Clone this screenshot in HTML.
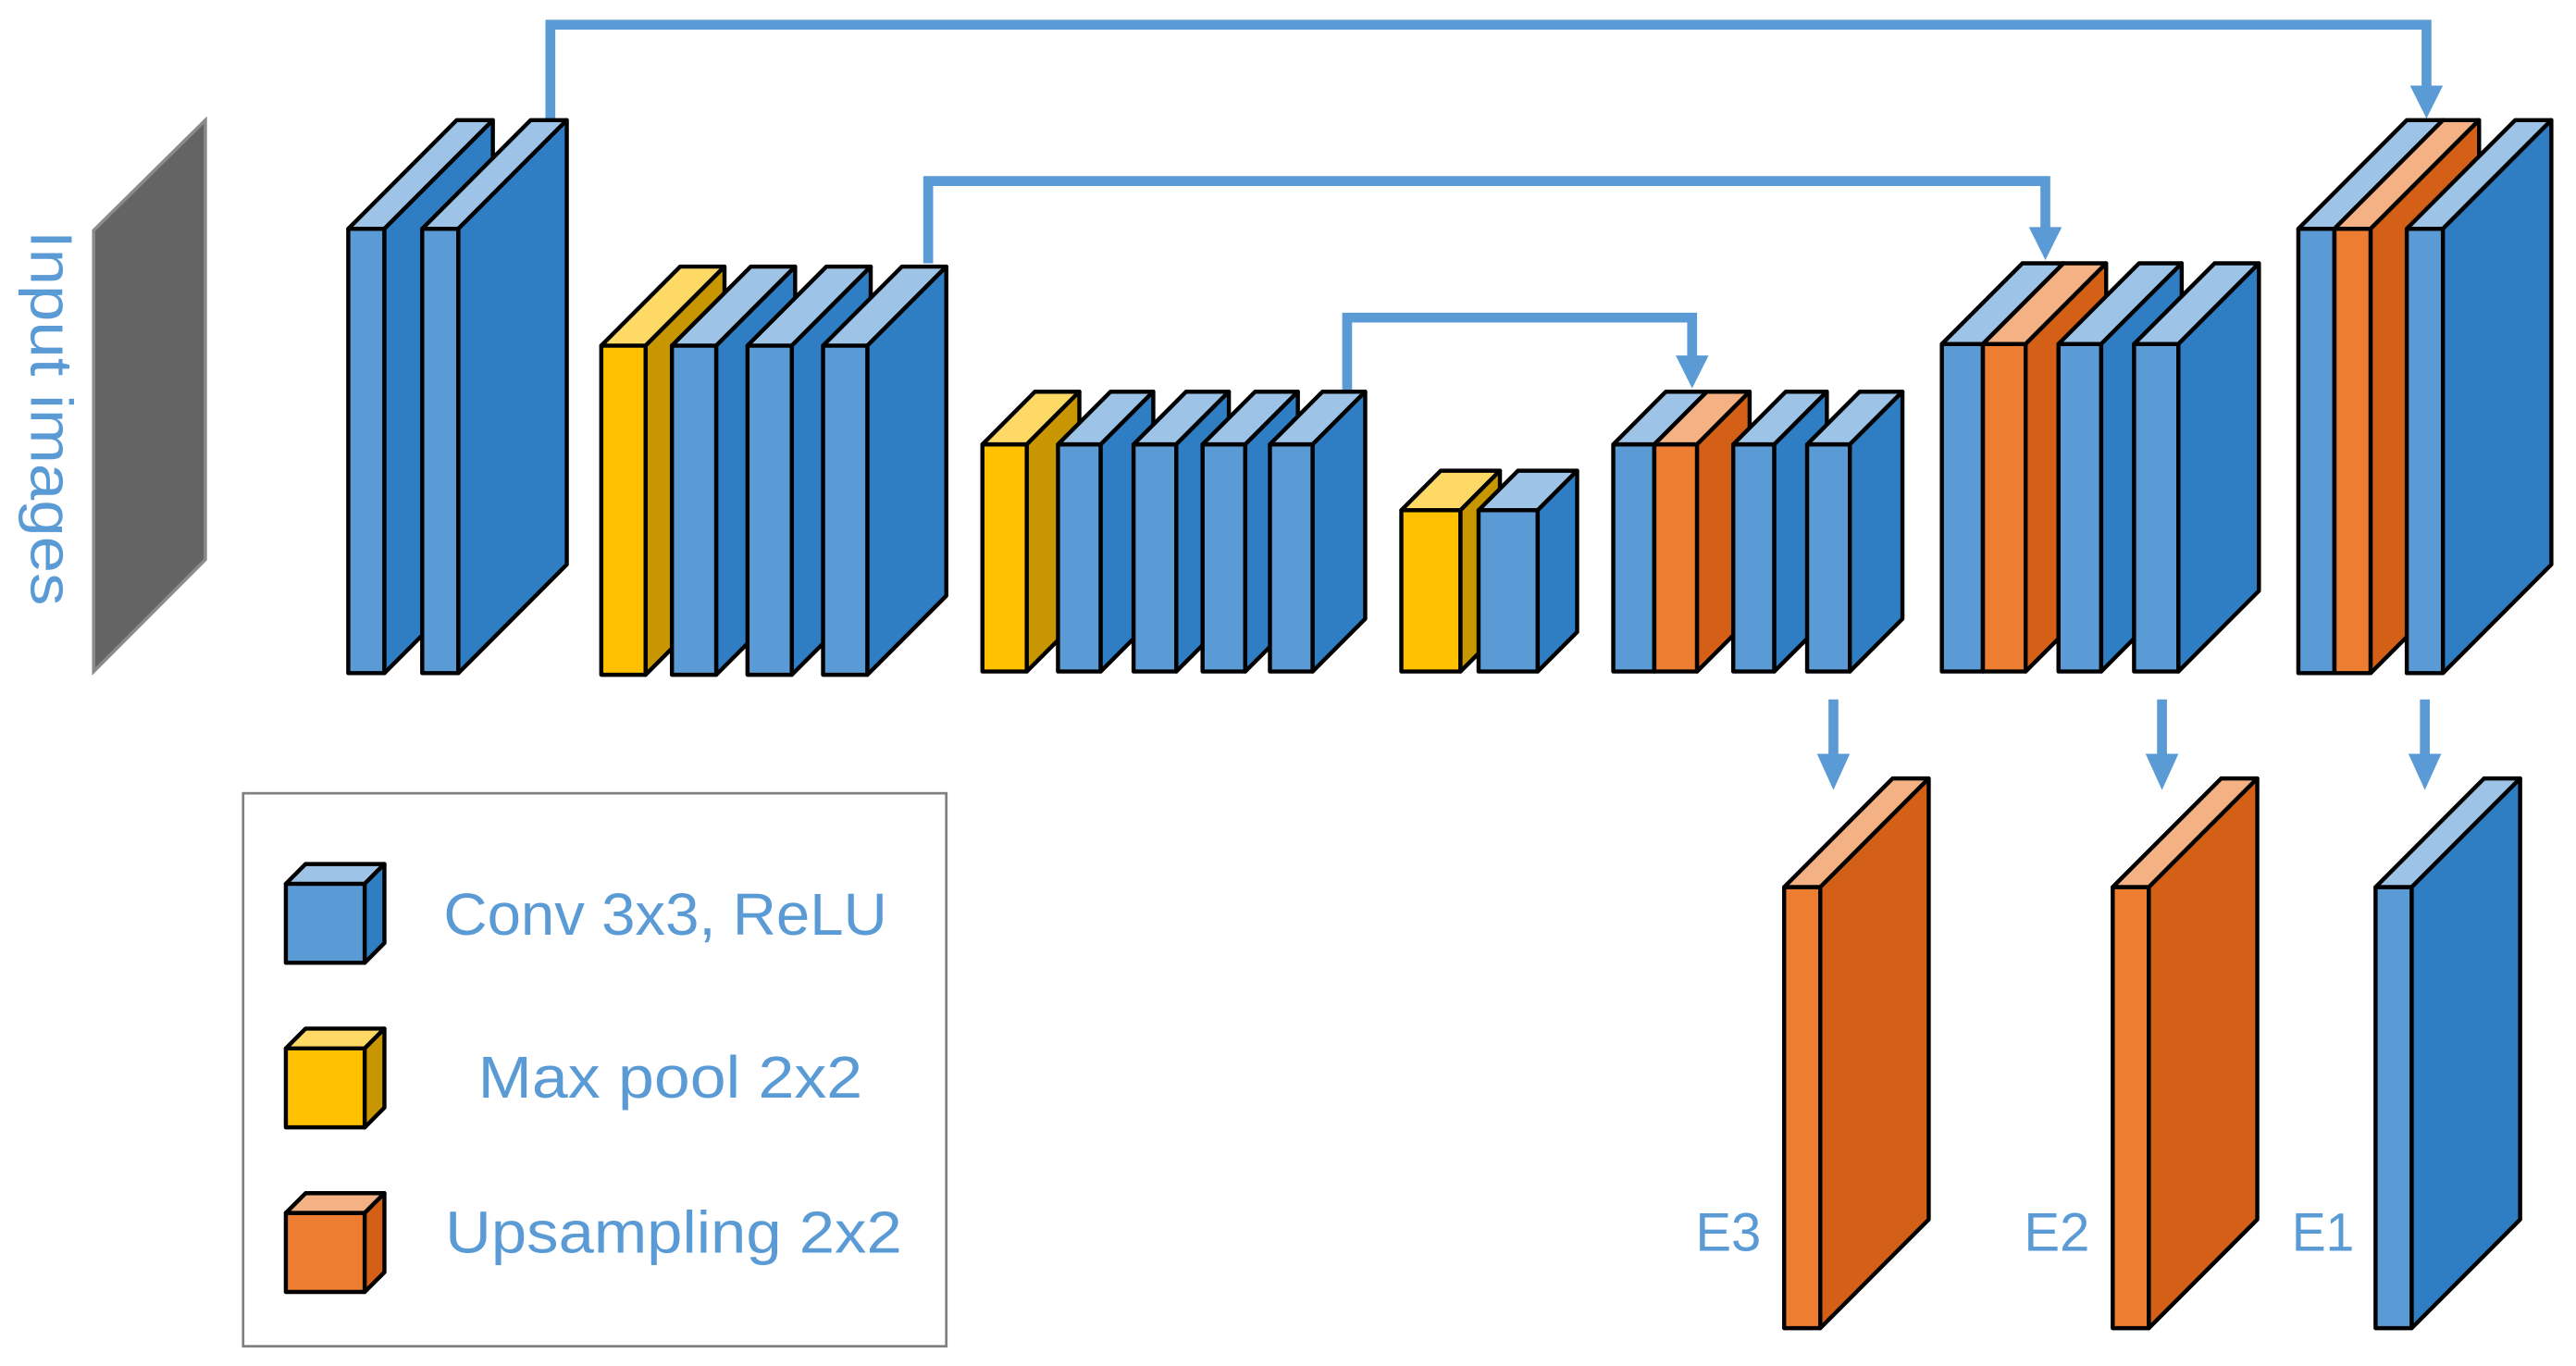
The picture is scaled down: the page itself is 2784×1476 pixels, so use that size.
<!DOCTYPE html>
<html><head><meta charset="utf-8"><style>
html,body{margin:0;padding:0;background:#fff;}
svg{display:block;}
text{font-family:"Liberation Sans",sans-serif;fill:#5b9bd5;}
.b rect,.b polygon,.y rect,.y polygon,.o rect,.o polygon{stroke:#000;stroke-width:2.5;stroke-linejoin:round;}
.b rect{fill:#5b9bd5}.b .t{fill:#9dc3e6}.b .s{fill:#2f7ec4}
.y rect{fill:#ffc000}.y .t{fill:#ffd966}.y .s{fill:#c89600}
.o rect{fill:#ed7d31}.o .t{fill:#f4b183}.o .s{fill:#d45f16}
.ln{fill:none;stroke:#5b9bd5;stroke-width:6}
.ah{fill:#5b9bd5}
</style></head><body>
<svg width="2784" height="1476" viewBox="0 0 1568 830" preserveAspectRatio="none">
<polygon points="57,140 125,73 125,340 57,408" fill="#646464" stroke="#8a8a8a" stroke-width="2"/>
<text transform="translate(19,140) rotate(90)" font-size="36" textLength="228" lengthAdjust="spacingAndGlyphs">Input images</text>

<path class="ln" d="M335,72 V15 H1477 V56"/><polygon class="ah" points="1467,52 1487,52 1477,72"/>
<path class="ln" d="M565,160 V110 H1245 V142"/><polygon class="ah" points="1235,138 1255,138 1245,158"/>
<path class="ln" d="M820,238 V193 H1030 V220"/><polygon class="ah" points="1020,216 1040,216 1030,236"/>
<path class="ln" d="M1116,425 V462"/><polygon class="ah" points="1106,458 1126,458 1116,480"/>
<path class="ln" d="M1316,425 V462"/><polygon class="ah" points="1306,458 1326,458 1316,480"/>
<path class="ln" d="M1476,425 V462"/><polygon class="ah" points="1466,458 1486,458 1476,480"/>

<g class="b"><rect x="212" y="139" width="22" height="270"/><polygon class="t" points="212,139 278,73 300,73 234,139"/><polygon class="s" points="234,139 300,73 300,343 234,409"/></g>
<g class="b"><rect x="257" y="139" width="22" height="270"/><polygon class="t" points="257,139 323,73 345,73 279,139"/><polygon class="s" points="279,139 345,73 345,343 279,409"/></g>

<g class="y"><rect x="366" y="210" width="27" height="200"/><polygon class="t" points="366,210 414,162 441,162 393,210"/><polygon class="s" points="393,210 441,162 441,362 393,410"/></g>
<g class="b"><rect x="409" y="210" width="27" height="200"/><polygon class="t" points="409,210 457,162 484,162 436,210"/><polygon class="s" points="436,210 484,162 484,362 436,410"/></g>
<g class="b"><rect x="455" y="210" width="27" height="200"/><polygon class="t" points="455,210 503,162 530,162 482,210"/><polygon class="s" points="482,210 530,162 530,362 482,410"/></g>
<g class="b"><rect x="501" y="210" width="27" height="200"/><polygon class="t" points="501,210 549,162 576,162 528,210"/><polygon class="s" points="528,210 576,162 576,362 528,410"/></g>

<g class="y"><rect x="598" y="270" width="27" height="138"/><polygon class="t" points="598,270 630,238 657,238 625,270"/><polygon class="s" points="625,270 657,238 657,376 625,408"/></g>
<g class="b"><rect x="644" y="270" width="26" height="138"/><polygon class="t" points="644,270 676,238 702,238 670,270"/><polygon class="s" points="670,270 702,238 702,376 670,408"/></g>
<g class="b"><rect x="690" y="270" width="26" height="138"/><polygon class="t" points="690,270 722,238 748,238 716,270"/><polygon class="s" points="716,270 748,238 748,376 716,408"/></g>
<g class="b"><rect x="732" y="270" width="26" height="138"/><polygon class="t" points="732,270 764,238 790,238 758,270"/><polygon class="s" points="758,270 790,238 790,376 758,408"/></g>
<g class="b"><rect x="773" y="270" width="26" height="138"/><polygon class="t" points="773,270 805,238 831,238 799,270"/><polygon class="s" points="799,270 831,238 831,376 799,408"/></g>

<g class="y"><rect x="853" y="310" width="36" height="98"/><polygon class="t" points="853,310 877,286 913,286 889,310"/><polygon class="s" points="889,310 913,286 913,384 889,408"/></g>
<g class="b"><rect x="900" y="310" width="36" height="98"/><polygon class="t" points="900,310 924,286 960,286 936,310"/><polygon class="s" points="936,310 960,286 960,384 936,408"/></g>

<g class="b"><rect x="982" y="270" width="25" height="138"/><polygon class="t" points="982,270 1014,238 1039,238 1007,270"/><polygon class="s" points="1007,270 1039,238 1039,376 1007,408"/></g>
<g class="o"><rect x="1007" y="270" width="26" height="138"/><polygon class="t" points="1007,270 1039,238 1065,238 1033,270"/><polygon class="s" points="1033,270 1065,238 1065,376 1033,408"/></g>
<g class="b"><rect x="1055" y="270" width="25" height="138"/><polygon class="t" points="1055,270 1087,238 1112,238 1080,270"/><polygon class="s" points="1080,270 1112,238 1112,376 1080,408"/></g>
<g class="b"><rect x="1100" y="270" width="26" height="138"/><polygon class="t" points="1100,270 1132,238 1158,238 1126,270"/><polygon class="s" points="1126,270 1158,238 1158,376 1126,408"/></g>

<g class="b"><rect x="1182" y="209" width="25" height="199"/><polygon class="t" points="1182,209 1231,160 1256,160 1207,209"/><polygon class="s" points="1207,209 1256,160 1256,359 1207,408"/></g>
<g class="o"><rect x="1207" y="209" width="26" height="199"/><polygon class="t" points="1207,209 1256,160 1282,160 1233,209"/><polygon class="s" points="1233,209 1282,160 1282,359 1233,408"/></g>
<g class="b"><rect x="1253" y="209" width="26" height="199"/><polygon class="t" points="1253,209 1302,160 1328,160 1279,209"/><polygon class="s" points="1279,209 1328,160 1328,359 1279,408"/></g>
<g class="b"><rect x="1299" y="209" width="27" height="199"/><polygon class="t" points="1299,209 1348,160 1375,160 1326,209"/><polygon class="s" points="1326,209 1375,160 1375,359 1326,408"/></g>

<g class="b"><rect x="1399" y="139" width="22" height="270"/><polygon class="t" points="1399,139 1465,73 1487,73 1421,139"/><polygon class="s" points="1421,139 1487,73 1487,343 1421,409"/></g>
<g class="o"><rect x="1421" y="139" width="22" height="270"/><polygon class="t" points="1421,139 1487,73 1509,73 1443,139"/><polygon class="s" points="1443,139 1509,73 1509,343 1443,409"/></g>
<g class="b"><rect x="1465" y="139" width="22" height="270"/><polygon class="t" points="1465,139 1531,73 1553,73 1487,139"/><polygon class="s" points="1487,139 1553,73 1553,343 1487,409"/></g>

<g class="o"><rect x="1086" y="539" width="22" height="268"/><polygon class="t" points="1086,539 1152,473 1174,473 1108,539"/><polygon class="s" points="1108,539 1174,473 1174,741 1108,807"/></g>
<g class="o"><rect x="1286" y="539" width="22" height="268"/><polygon class="t" points="1286,539 1352,473 1374,473 1308,539"/><polygon class="s" points="1308,539 1374,473 1374,741 1308,807"/></g>
<g class="b"><rect x="1446" y="539" width="22" height="268"/><polygon class="t" points="1446,539 1512,473 1534,473 1468,539"/><polygon class="s" points="1468,539 1534,473 1534,741 1468,807"/></g>
<text x="1032" y="760" font-size="33" textLength="40" lengthAdjust="spacingAndGlyphs">E3</text>
<text x="1232" y="760" font-size="33" textLength="40" lengthAdjust="spacingAndGlyphs">E2</text>
<text x="1395" y="760" font-size="33" textLength="38" lengthAdjust="spacingAndGlyphs">E1</text>

<rect x="148" y="482" width="428" height="336" fill="#fff" stroke="#7f7f7f" stroke-width="1.5"/>
<g class="b"><rect x="174" y="537" width="48" height="48"/><polygon class="t" points="174,537 186,525 234,525 222,537"/><polygon class="s" points="222,537 234,525 234,573 222,585"/></g>
<g class="y"><rect x="174" y="637" width="48" height="48"/><polygon class="t" points="174,637 186,625 234,625 222,637"/><polygon class="s" points="222,637 234,625 234,673 222,685"/></g>
<g class="o"><rect x="174" y="737" width="48" height="48"/><polygon class="t" points="174,737 186,725 234,725 222,737"/><polygon class="s" points="222,737 234,725 234,773 222,785"/></g>
<text x="270" y="568" font-size="36" textLength="270" lengthAdjust="spacingAndGlyphs">Conv 3x3, ReLU</text>
<text x="291" y="667" font-size="36" textLength="234" lengthAdjust="spacingAndGlyphs">Max pool 2x2</text>
<text x="271" y="761" font-size="36" textLength="278" lengthAdjust="spacingAndGlyphs">Upsampling 2x2</text>
</svg>
</body></html>
